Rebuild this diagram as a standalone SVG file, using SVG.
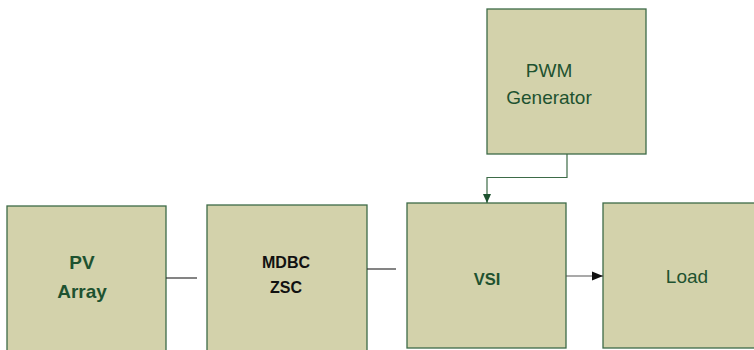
<svg xmlns="http://www.w3.org/2000/svg" width="754" height="350" viewBox="0 0 754 350">
<style>
.box{fill:#d3d2ab;stroke:#3d6b47;stroke-width:1.3}
.t{font-family:"Liberation Sans",Arial,sans-serif;fill:#1e5230;text-anchor:middle}
.b{font-weight:bold}
.k{fill:#111}
.c{fill:none;stroke-width:1.2}
</style>
<defs>
<marker id="ag" markerWidth="10" markerHeight="10" refX="9" refY="5" orient="auto" markerUnits="userSpaceOnUse"><path d="M0,1 L9,5 L0,9 Z" fill="#1e5230"/></marker>
<marker id="ak" markerWidth="12" markerHeight="10" refX="11" refY="5" orient="auto" markerUnits="userSpaceOnUse"><path d="M0,0.5 L11,5 L0,9.5 Z" fill="#111"/></marker>
</defs>
<rect width="754" height="350" fill="#fff"/>
<g id="pv"><rect class="box" x="7" y="206" width="159" height="150"/><text class="t b" x="82" y="269" font-size="19">PV</text><text class="t b" x="82" y="298" font-size="19">Array</text></g>
<g id="mdbc"><rect class="box" x="207" y="205" width="160" height="150"/><text class="t b k" x="286" y="268" font-size="16">MDBC</text><text class="t b k" x="286" y="293" font-size="16">ZSC</text></g>
<g id="vsi"><rect class="box" x="407" y="203" width="159" height="145"/><text class="t b" x="487" y="285" font-size="16.5">VSI</text></g>
<g id="load"><rect class="box" x="603" y="203" width="160" height="145"/><text class="t" x="687" y="283" font-size="19">Load</text></g>
<g id="pwm"><rect class="box" x="487" y="9" width="159" height="145"/><text class="t" x="549" y="77" font-size="19">PWM</text><text class="t" x="549" y="104" font-size="19">Generator</text></g>
<g id="connectors">
<path class="c" d="M166,278 H197" stroke="#333"/>
<path class="c" d="M367,269 H396" stroke="#333"/>
<path class="c" d="M566,276 H603" stroke="#555" marker-end="url(#ak)"/>
<path class="c" d="M567,154 V177.5 H487 V203" stroke="#3d6b47" marker-end="url(#ag)"/>
</g>
</svg>
